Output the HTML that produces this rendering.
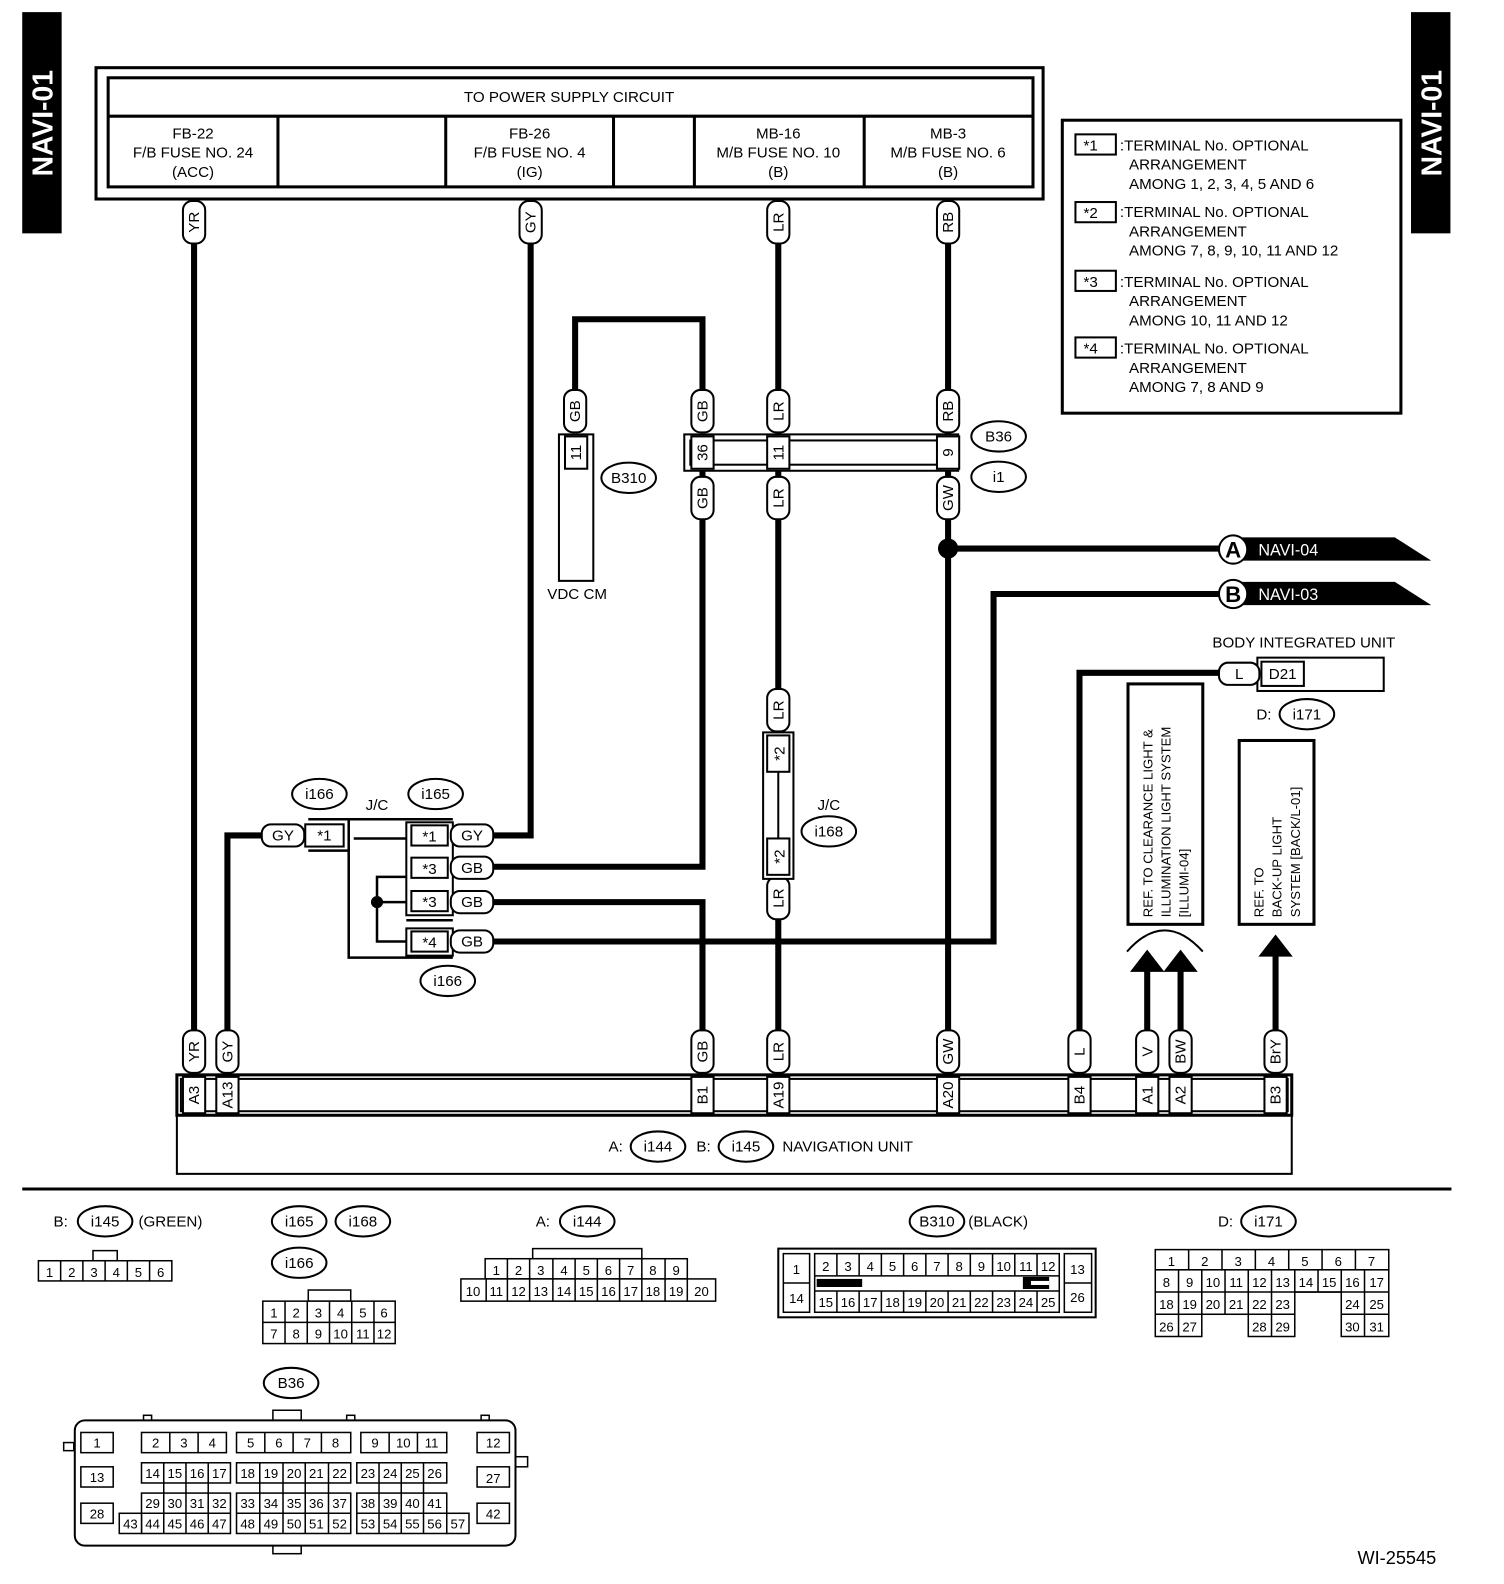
<!DOCTYPE html>
<html><head><meta charset="utf-8"><style>
html,body{margin:0;padding:0;background:#fff;overflow:hidden;width:1504px;height:1584px}
svg{display:block;position:absolute;left:0;top:0}
text{font-family:"Liberation Sans",Arial,sans-serif;fill:#000}
.t{font-size:15px}
.s{font-size:13px}
.w{fill:none;stroke:#000;stroke-width:6}
.b{fill:#fff;stroke:#000;stroke-width:2}
.b3{fill:#fff;stroke:#000;stroke-width:3}
.c{fill:#fff;stroke:#000;stroke-width:1.5}
</style></head><body>
<svg width="1504" height="1584" viewBox="0 0 1488 1568" preserveAspectRatio="none" xmlns="http://www.w3.org/2000/svg">
<rect x="22" y="12" width="39" height="219" fill="#000"/>
<text transform="translate(52,122) rotate(-90)" text-anchor="middle" style="font-size:28px;font-weight:bold;fill:#fff">NAVI-01</text>
<rect x="1396" y="12" width="39" height="219" fill="#000"/>
<text transform="translate(1426,122) rotate(-90)" text-anchor="middle" style="font-size:28px;font-weight:bold;fill:#fff">NAVI-01</text>

<rect x="95" y="67" width="937" height="130" class="b3"/>
<rect x="107" y="77" width="915" height="108" class="b3"/>
<line x1="107" y1="115" x2="1022" y2="115" stroke="#000" stroke-width="3"/>
<g stroke="#000" stroke-width="3"><line x1="275" y1="115" x2="275" y2="185"/><line x1="441" y1="115" x2="441" y2="185"/><line x1="607" y1="115" x2="607" y2="185"/><line x1="687" y1="115" x2="687" y2="185"/><line x1="855" y1="115" x2="855" y2="185"/></g>
<text x="563" y="101" text-anchor="middle" class="t">TO POWER SUPPLY CIRCUIT</text>
<g class="t" text-anchor="middle">
<text x="191" y="137">FB-22</text><text x="191" y="156">F/B FUSE NO. 24</text><text x="191" y="175">(ACC)</text>
<text x="524" y="137">FB-26</text><text x="524" y="156">F/B FUSE NO. 4</text><text x="524" y="175">(IG)</text>
<text x="770" y="137">MB-16</text><text x="770" y="156">M/B FUSE NO. 10</text><text x="770" y="175">(B)</text>
<text x="938" y="137">MB-3</text><text x="938" y="156">M/B FUSE NO. 6</text><text x="938" y="175">(B)</text>
</g>

<rect x="1051" y="119" width="335" height="290" class="b3"/>
<g class="t">
<rect x="1064" y="133" width="40" height="20" class="b"/><text x="1072" y="149">*1</text>
<text x="1108" y="149">:TERMINAL No. OPTIONAL</text><text x="1117" y="168">ARRANGEMENT</text><text x="1117" y="187">AMONG 1, 2, 3, 4, 5 AND 6</text>
<rect x="1064" y="200" width="40" height="20" class="b"/><text x="1072" y="216">*2</text>
<text x="1108" y="215">:TERMINAL No. OPTIONAL</text><text x="1117" y="234">ARRANGEMENT</text><text x="1117" y="253">AMONG 7, 8, 9, 10, 11 AND 12</text>
<rect x="1064" y="268" width="40" height="20" class="b"/><text x="1072" y="284">*3</text>
<text x="1108" y="284">:TERMINAL No. OPTIONAL</text><text x="1117" y="303">ARRANGEMENT</text><text x="1117" y="322">AMONG 10, 11 AND 12</text>
<rect x="1064" y="334" width="40" height="20" class="b"/><text x="1072" y="350">*4</text>
<text x="1108" y="350">:TERMINAL No. OPTIONAL</text><text x="1117" y="369">ARRANGEMENT</text><text x="1117" y="388">AMONG 7, 8 AND 9</text>
</g>

<g class="w">
<polyline points="192,197 192,1064"/>
<polyline points="525,197 525,827 488,827"/>
<polyline points="770,197 770,1064"/>
<polyline points="938,197 938,1064"/>
<polyline points="569,390 569,316 695,316 695,390"/>
<polyline points="695,466 695,858 488,858"/>
<polyline points="488,893 695,893 695,1064"/>
<polyline points="488,932 983,932 983,588 1210,588"/>
<polyline points="938,543 1210,543"/>
<polyline points="1068,1064 1068,666 1210,666"/>
<polyline points="225,1064 225,827 262,827"/>
<polyline points="1135,1064 1135,960"/>
<polyline points="1168,1064 1168,960"/>
<polyline points="1262,1064 1262,945"/>
</g>
<circle cx="938" cy="543" r="10" fill="#000"/>
<polygon points="1118,962 1135,940 1152,962" fill="#000"/>
<polygon points="1151,962 1168,940 1185,962" fill="#000"/>
<polygon points="1245,947 1262,925 1279,947" fill="#000"/>
<path d="M1115,942 Q1152,900 1190,942" fill="none" stroke="#000" stroke-width="2"/>

<g class="b">
<rect x="181" y="199" width="22" height="42" rx="9"/>
<rect x="514" y="199" width="22" height="42" rx="9"/>
<rect x="759" y="199" width="22" height="42" rx="9"/>
<rect x="927" y="199" width="22" height="42" rx="9"/>
<rect x="558" y="386" width="22" height="42" rx="9"/>
<rect x="684" y="386" width="22" height="42" rx="9"/>
<rect x="759" y="386" width="22" height="42" rx="9"/>
<rect x="927" y="386" width="22" height="42" rx="9"/>
<rect x="684" y="472" width="22" height="42" rx="9"/>
<rect x="759" y="472" width="22" height="42" rx="9"/>
<rect x="927" y="472" width="22" height="42" rx="9"/>
<rect x="759" y="682" width="22" height="42" rx="9"/>
<rect x="759" y="868" width="22" height="42" rx="9"/>
<rect x="181" y="1020" width="22" height="42" rx="9"/>
<rect x="214" y="1020" width="22" height="42" rx="9"/>
<rect x="684" y="1020" width="22" height="42" rx="9"/>
<rect x="759" y="1020" width="22" height="42" rx="9"/>
<rect x="927" y="1020" width="22" height="42" rx="9"/>
<rect x="1057" y="1020" width="22" height="42" rx="9"/>
<rect x="1124" y="1020" width="22" height="42" rx="9"/>
<rect x="1157" y="1020" width="22" height="42" rx="9"/>
<rect x="1251" y="1020" width="22" height="42" rx="9"/>
</g>
<g class="t" text-anchor="middle">
<text transform="translate(197,220) rotate(-90)">YR</text>
<text transform="translate(530,220) rotate(-90)">GY</text>
<text transform="translate(775,220) rotate(-90)">LR</text>
<text transform="translate(943,220) rotate(-90)">RB</text>
<text transform="translate(574,407) rotate(-90)">GB</text>
<text transform="translate(700,407) rotate(-90)">GB</text>
<text transform="translate(775,407) rotate(-90)">LR</text>
<text transform="translate(943,407) rotate(-90)">RB</text>
<text transform="translate(700,493) rotate(-90)">GB</text>
<text transform="translate(775,493) rotate(-90)">LR</text>
<text transform="translate(943,493) rotate(-90)">GW</text>
<text transform="translate(775,703) rotate(-90)">LR</text>
<text transform="translate(775,889) rotate(-90)">LR</text>
<text transform="translate(197,1041) rotate(-90)">YR</text>
<text transform="translate(230,1041) rotate(-90)">GY</text>
<text transform="translate(700,1041) rotate(-90)">GB</text>
<text transform="translate(775,1041) rotate(-90)">LR</text>
<text transform="translate(943,1041) rotate(-90)">GW</text>
<text transform="translate(1073,1041) rotate(-90)">L</text>
<text transform="translate(1140,1041) rotate(-90)">V</text>
<text transform="translate(1173,1041) rotate(-90)">BW</text>
<text transform="translate(1267,1041) rotate(-90)">BrY</text>
</g>

<rect x="677" y="430" width="271" height="36" class="b"/>
<rect x="683" y="436" width="259" height="24" class="b"/>
<rect x="684" y="432" width="22" height="32" class="b"/>
<rect x="759" y="432" width="22" height="32" class="b"/>
<rect x="927" y="432" width="22" height="32" class="b"/>
<g class="t" text-anchor="middle">
<text transform="translate(700,448) rotate(-90)">36</text>
<text transform="translate(775,448) rotate(-90)">11</text>
<text transform="translate(943,448) rotate(-90)">9</text>
</g>
<ellipse cx="988" cy="432" rx="27" ry="15" class="b"/><text x="988" y="437" text-anchor="middle" class="t">B36</text>
<ellipse cx="988" cy="472" rx="27" ry="15" class="b"/><text x="988" y="477" text-anchor="middle" class="t">i1</text>

<rect x="553" y="430" width="34" height="145" class="b"/>
<rect x="559" y="432" width="22" height="32" class="b"/>
<text transform="translate(575,448) rotate(-90)" text-anchor="middle" class="t">11</text>
<ellipse cx="622" cy="473" rx="27" ry="15" class="b"/><text x="622" y="478" text-anchor="middle" class="t">B310</text>
<text x="571" y="593" text-anchor="middle" class="t">VDC CM</text>

<polygon points="1228,532 1380,532 1416,555 1228,555" fill="#000"/>
<circle cx="1220" cy="544" r="14" class="b"/><text x="1220" y="552" text-anchor="middle" style="font-size:22px;font-weight:bold">A</text>
<text x="1245" y="550" style="font-size:16px;fill:#fff">NAVI-04</text>
<polygon points="1228,576 1380,576 1416,599 1228,599" fill="#000"/>
<circle cx="1220" cy="588" r="14" class="b"/><text x="1220" y="596" text-anchor="middle" style="font-size:22px;font-weight:bold">B</text>
<text x="1245" y="594" style="font-size:16px;fill:#fff">NAVI-03</text>

<text x="1290" y="641" text-anchor="middle" class="t">BODY INTEGRATED UNIT</text>
<rect x="1244" y="651" width="125" height="33" class="b"/>
<rect x="1248" y="655" width="42" height="24" class="b"/>
<text x="1269" y="672" text-anchor="middle" class="t">D21</text>
<rect x="1206" y="656" width="40" height="22" rx="9" class="b"/><text x="1226" y="672" text-anchor="middle" class="t">L</text>
<text x="1243" y="712" class="t">D:</text>
<ellipse cx="1293" cy="707" rx="27" ry="15" class="b"/><text x="1293" y="712" text-anchor="middle" class="t">i171</text>

<rect x="1116" y="677" width="74" height="238" class="b3"/>
<g class="s"><text transform="translate(1140,908) rotate(-90)">REF. TO CLEARANCE LIGHT &amp;</text>
<text transform="translate(1158,908) rotate(-90)">ILLUMINATION LIGHT SYSTEM</text>
<text transform="translate(1176,908) rotate(-90)">[ILLUMI-04]</text></g>
<rect x="1226" y="733" width="74" height="182" class="b3"/>
<g class="s"><text transform="translate(1250,908) rotate(-90)">REF. TO</text>
<text transform="translate(1268,908) rotate(-90)">BACK-UP LIGHT</text>
<text transform="translate(1286,908) rotate(-90)">SYSTEM [BACK/L-01]</text></g>

<rect x="755" y="725" width="30" height="145" class="b"/>
<rect x="759" y="728" width="22" height="36" class="b"/>
<rect x="759" y="830" width="22" height="36" class="b"/>
<g class="t" text-anchor="middle">
<text transform="translate(776,746) rotate(-90)">*2</text>
<text transform="translate(776,848) rotate(-90)">*2</text>
</g>
<line x1="770" y1="764" x2="770" y2="830" stroke="#000" stroke-width="2"/>
<text x="820" y="802" text-anchor="middle" class="t">J/C</text>
<ellipse cx="820" cy="823" rx="27" ry="15" class="b"/><text x="820" y="828" text-anchor="middle" class="t">i168</text>

<ellipse cx="316" cy="786" rx="27" ry="15" class="b"/><text x="316" y="791" text-anchor="middle" class="t">i166</text>
<ellipse cx="431" cy="786" rx="27" ry="15" class="b"/><text x="431" y="791" text-anchor="middle" class="t">i165</text>
<text x="373" y="802" text-anchor="middle" class="t">J/C</text>
<g fill="none" stroke="#000" stroke-width="2.5">
<line x1="305" y1="811" x2="448" y2="811"/>
<line x1="305" y1="842" x2="345" y2="842"/>
<polyline points="345,811 345,948 448,948"/>
<line x1="350" y1="830" x2="404" y2="830"/>
<polyline points="404,868 373,868 373,932 404,932"/>
<line x1="373" y1="893" x2="404" y2="893"/>
<line x1="402" y1="911" x2="448" y2="911"/>
</g>
<circle cx="373" cy="893" r="6" fill="#000"/>
<rect x="402" y="814" width="46" height="92" class="b"/>
<rect x="407" y="817" width="36" height="20" class="b"/><text x="425" y="833" text-anchor="middle" class="t">*1</text>
<rect x="407" y="849" width="36" height="20" class="b"/><text x="425" y="865" text-anchor="middle" class="t">*3</text>
<rect x="407" y="882" width="36" height="20" class="b"/><text x="425" y="898" text-anchor="middle" class="t">*3</text>
<rect x="402" y="919" width="46" height="27" class="b"/>
<rect x="407" y="922" width="36" height="20" class="b"/><text x="425" y="938" text-anchor="middle" class="t">*4</text>
<rect x="302" y="816" width="38" height="22" class="b"/><text x="321" y="832" text-anchor="middle" class="t">*1</text>
<g class="b">
<rect x="259" y="816" width="42" height="22" rx="9"/>
<rect x="446" y="816" width="42" height="22" rx="9"/>
<rect x="446" y="848" width="42" height="22" rx="9"/>
<rect x="446" y="882" width="42" height="22" rx="9"/>
<rect x="446" y="921" width="42" height="22" rx="9"/>
</g>
<g class="t" text-anchor="middle">
<text x="280" y="832">GY</text><text x="467" y="832">GY</text><text x="467" y="864">GB</text><text x="467" y="898">GB</text><text x="467" y="937">GB</text>
</g>
<ellipse cx="443" cy="971" rx="27" ry="15" class="b"/><text x="443" y="976" text-anchor="middle" class="t">i166</text>

<rect x="175" y="1064" width="1103" height="98" class="b"/>
<rect x="175" y="1064" width="1103" height="40" class="b3"/>
<rect x="179" y="1068" width="1095" height="32" class="b"/>
<g class="b">
<rect x="181" y="1066" width="22" height="36"/><rect x="214" y="1066" width="22" height="36"/>
<rect x="684" y="1066" width="22" height="36"/><rect x="759" y="1066" width="22" height="36"/>
<rect x="927" y="1066" width="22" height="36"/><rect x="1057" y="1066" width="22" height="36"/>
<rect x="1124" y="1066" width="22" height="36"/><rect x="1157" y="1066" width="22" height="36"/>
<rect x="1251" y="1066" width="22" height="36"/>
</g>
<g class="t" text-anchor="middle">
<text transform="translate(197,1084) rotate(-90)">A3</text>
<text transform="translate(230,1084) rotate(-90)">A13</text>
<text transform="translate(700,1084) rotate(-90)">B1</text>
<text transform="translate(775,1084) rotate(-90)">A19</text>
<text transform="translate(943,1084) rotate(-90)">A20</text>
<text transform="translate(1073,1084) rotate(-90)">B4</text>
<text transform="translate(1140,1084) rotate(-90)">A1</text>
<text transform="translate(1173,1084) rotate(-90)">A2</text>
<text transform="translate(1267,1084) rotate(-90)">B3</text>
</g>
<text x="602" y="1140" class="t">A:</text>
<ellipse cx="651" cy="1135" rx="27" ry="15" class="b"/><text x="651" y="1140" text-anchor="middle" class="t">i144</text>
<text x="689" y="1140" class="t">B:</text>
<ellipse cx="738" cy="1135" rx="27" ry="15" class="b"/><text x="738" y="1140" text-anchor="middle" class="t">i145</text>
<text x="774" y="1140" class="t">NAVIGATION UNIT</text>

<line x1="22" y1="1177" x2="1436" y2="1177" stroke="#000" stroke-width="3"/>

<text x="53" y="1214" class="t">B:</text>
<ellipse cx="104" cy="1209" rx="27" ry="15" class="b"/><text x="104" y="1214" text-anchor="middle" class="t">i145</text>
<text x="137" y="1214" class="t">(GREEN)</text>
<rect x="92" y="1238" width="24" height="10" class="c"/>
<g class="c"><rect x="38" y="1248" width="132" height="20"/></g>
<g fill="none" stroke="#000" stroke-width="1.5"><line x1="60" y1="1248" x2="60" y2="1268"/><line x1="82" y1="1248" x2="82" y2="1268"/><line x1="104" y1="1248" x2="104" y2="1268"/><line x1="126" y1="1248" x2="126" y2="1268"/><line x1="148" y1="1248" x2="148" y2="1268"/></g>
<g class="s" text-anchor="middle"><text x="49" y="1264">1</text><text x="71" y="1264">2</text><text x="93" y="1264">3</text><text x="115" y="1264">4</text><text x="137" y="1264">5</text><text x="159" y="1264">6</text></g>

<ellipse cx="296" cy="1209" rx="27" ry="15" class="b"/><text x="296" y="1214" text-anchor="middle" class="t">i165</text>
<ellipse cx="359" cy="1209" rx="27" ry="15" class="b"/><text x="359" y="1214" text-anchor="middle" class="t">i168</text>
<ellipse cx="296" cy="1250" rx="27" ry="15" class="b"/><text x="296" y="1255" text-anchor="middle" class="t">i166</text>
<rect x="305" y="1277" width="42" height="11" class="c"/>
<rect x="260" y="1288" width="131" height="42" class="c"/>
<g fill="none" stroke="#000" stroke-width="1.5"><line x1="260" y1="1309" x2="391" y2="1309"/><line x1="282" y1="1288" x2="282" y2="1330"/><line x1="304" y1="1288" x2="304" y2="1330"/><line x1="326" y1="1288" x2="326" y2="1330"/><line x1="348" y1="1288" x2="348" y2="1330"/><line x1="370" y1="1288" x2="370" y2="1330"/></g>
<g class="s" text-anchor="middle"><text x="271" y="1304">1</text><text x="293" y="1304">2</text><text x="315" y="1304">3</text><text x="337" y="1304">4</text><text x="359" y="1304">5</text><text x="380" y="1304">6</text>
<text x="271" y="1325">7</text><text x="293" y="1325">8</text><text x="315" y="1325">9</text><text x="337" y="1325">10</text><text x="359" y="1325">11</text><text x="380" y="1325">12</text></g>

<text x="530" y="1214" class="t">A:</text>
<ellipse cx="581" cy="1209" rx="27" ry="15" class="b"/><text x="581" y="1214" text-anchor="middle" class="t">i144</text>
<rect x="527" y="1236" width="108" height="10" class="c"/>
<rect x="480" y="1246" width="200" height="20" class="c"/>
<rect x="456" y="1266" width="252" height="22" class="c"/>
<g fill="none" stroke="#000" stroke-width="1.5">
<line x1="502" y1="1246" x2="502" y2="1266"/><line x1="524" y1="1246" x2="524" y2="1266"/><line x1="547" y1="1246" x2="547" y2="1266"/><line x1="569" y1="1246" x2="569" y2="1266"/><line x1="591" y1="1246" x2="591" y2="1266"/><line x1="613" y1="1246" x2="613" y2="1266"/><line x1="635" y1="1246" x2="635" y2="1266"/><line x1="658" y1="1246" x2="658" y2="1266"/>
<line x1="481" y1="1266" x2="481" y2="1288"/><line x1="502" y1="1266" x2="502" y2="1288"/><line x1="524" y1="1266" x2="524" y2="1288"/><line x1="547" y1="1266" x2="547" y2="1288"/><line x1="569" y1="1266" x2="569" y2="1288"/><line x1="591" y1="1266" x2="591" y2="1288"/><line x1="613" y1="1266" x2="613" y2="1288"/><line x1="635" y1="1266" x2="635" y2="1288"/><line x1="658" y1="1266" x2="658" y2="1288"/><line x1="680" y1="1266" x2="680" y2="1288"/></g>
<g class="s" text-anchor="middle"><text x="491" y="1262">1</text><text x="513" y="1262">2</text><text x="535" y="1262">3</text><text x="558" y="1262">4</text><text x="580" y="1262">5</text><text x="602" y="1262">6</text><text x="624" y="1262">7</text><text x="646" y="1262">8</text><text x="669" y="1262">9</text>
<text x="468" y="1283">10</text><text x="491" y="1283">11</text><text x="513" y="1283">12</text><text x="535" y="1283">13</text><text x="558" y="1283">14</text><text x="580" y="1283">15</text><text x="602" y="1283">16</text><text x="624" y="1283">17</text><text x="646" y="1283">18</text><text x="669" y="1283">19</text><text x="694" y="1283">20</text></g>

<ellipse cx="927" cy="1209" rx="27" ry="15" class="b"/><text x="927" y="1214" text-anchor="middle" class="t">B310</text>
<text x="958" y="1214" class="t">(BLACK)</text>
<rect x="770" y="1236" width="314" height="68" class="b"/>
<rect x="775" y="1241" width="26" height="58" class="c"/><line x1="775" y1="1270" x2="801" y2="1270" stroke="#000" stroke-width="1.5"/>
<rect x="1053" y="1241" width="27" height="58" class="c"/><line x1="1053" y1="1270" x2="1080" y2="1270" stroke="#000" stroke-width="1.5"/>
<rect x="806" y="1241" width="242" height="58" class="c"/>
<rect x="808" y="1266" width="45" height="8" fill="#000"/>
<rect x="1012" y="1264" width="26" height="12" fill="#000"/><rect x="1020" y="1268" width="18" height="4" fill="#fff"/>
<g fill="none" stroke="#000" stroke-width="1.5"><line x1="806" y1="1263" x2="1048" y2="1263"/><line x1="806" y1="1278" x2="1048" y2="1278"/>
<line x1="828" y1="1241" x2="828" y2="1263"/><line x1="850" y1="1241" x2="850" y2="1263"/><line x1="872" y1="1241" x2="872" y2="1263"/><line x1="894" y1="1241" x2="894" y2="1263"/><line x1="916" y1="1241" x2="916" y2="1263"/><line x1="938" y1="1241" x2="938" y2="1263"/><line x1="960" y1="1241" x2="960" y2="1263"/><line x1="982" y1="1241" x2="982" y2="1263"/><line x1="1004" y1="1241" x2="1004" y2="1263"/><line x1="1026" y1="1241" x2="1026" y2="1263"/>
<line x1="828" y1="1278" x2="828" y2="1299"/><line x1="850" y1="1278" x2="850" y2="1299"/><line x1="872" y1="1278" x2="872" y2="1299"/><line x1="894" y1="1278" x2="894" y2="1299"/><line x1="916" y1="1278" x2="916" y2="1299"/><line x1="938" y1="1278" x2="938" y2="1299"/><line x1="960" y1="1278" x2="960" y2="1299"/><line x1="982" y1="1278" x2="982" y2="1299"/><line x1="1004" y1="1278" x2="1004" y2="1299"/><line x1="1026" y1="1278" x2="1026" y2="1299"/></g>
<g class="s" text-anchor="middle"><text x="788" y="1261">1</text><text x="788" y="1290">14</text><text x="1066" y="1261">13</text><text x="1066" y="1289">26</text>
<text x="817" y="1258">2</text><text x="839" y="1258">3</text><text x="861" y="1258">4</text><text x="883" y="1258">5</text><text x="905" y="1258">6</text><text x="927" y="1258">7</text><text x="949" y="1258">8</text><text x="971" y="1258">9</text><text x="993" y="1258">10</text><text x="1015" y="1258">11</text><text x="1037" y="1258">12</text>
<text x="817" y="1294">15</text><text x="839" y="1294">16</text><text x="861" y="1294">17</text><text x="883" y="1294">18</text><text x="905" y="1294">19</text><text x="927" y="1294">20</text><text x="949" y="1294">21</text><text x="971" y="1294">22</text><text x="993" y="1294">23</text><text x="1015" y="1294">24</text><text x="1037" y="1294">25</text></g>

<text x="1205" y="1214" class="t">D:</text>
<ellipse cx="1255" cy="1209" rx="27" ry="15" class="b"/><text x="1255" y="1214" text-anchor="middle" class="t">i171</text>
<g class="c">
<rect x="1143" y="1237" width="231" height="20"/>
<rect x="1143" y="1257" width="46" height="66"/><rect x="1189" y="1257" width="46" height="44"/><rect x="1235" y="1257" width="46" height="66"/><rect x="1281" y="1257" width="46" height="22"/><rect x="1327" y="1257" width="47" height="66"/>
</g>
<g fill="none" stroke="#000" stroke-width="1.5">
<line x1="1176" y1="1237" x2="1176" y2="1257"/><line x1="1209" y1="1237" x2="1209" y2="1257"/><line x1="1242" y1="1237" x2="1242" y2="1257"/><line x1="1275" y1="1237" x2="1275" y2="1257"/><line x1="1308" y1="1237" x2="1308" y2="1257"/><line x1="1341" y1="1237" x2="1341" y2="1257"/>
<line x1="1143" y1="1279" x2="1374" y2="1279"/><line x1="1143" y1="1301" x2="1281" y2="1301"/><line x1="1327" y1="1301" x2="1374" y2="1301"/>
<line x1="1166" y1="1257" x2="1166" y2="1323"/><line x1="1212" y1="1257" x2="1212" y2="1301"/><line x1="1258" y1="1257" x2="1258" y2="1323"/><line x1="1304" y1="1257" x2="1304" y2="1279"/><line x1="1350" y1="1257" x2="1350" y2="1323"/></g>
<g class="s" text-anchor="middle"><text x="1159" y="1253">1</text><text x="1192" y="1253">2</text><text x="1225" y="1253">3</text><text x="1258" y="1253">4</text><text x="1291" y="1253">5</text><text x="1324" y="1253">6</text><text x="1357" y="1253">7</text>
<text x="1154" y="1274">8</text><text x="1177" y="1274">9</text><text x="1200" y="1274">10</text><text x="1223" y="1274">11</text><text x="1246" y="1274">12</text><text x="1269" y="1274">13</text><text x="1292" y="1274">14</text><text x="1315" y="1274">15</text><text x="1338" y="1274">16</text><text x="1362" y="1274">17</text>
<text x="1154" y="1296">18</text><text x="1177" y="1296">19</text><text x="1200" y="1296">20</text><text x="1223" y="1296">21</text><text x="1246" y="1296">22</text><text x="1269" y="1296">23</text><text x="1338" y="1296">24</text><text x="1362" y="1296">25</text>
<text x="1154" y="1318">26</text><text x="1177" y="1318">27</text><text x="1246" y="1318">28</text><text x="1269" y="1318">29</text><text x="1338" y="1318">30</text><text x="1362" y="1318">31</text></g>

<ellipse cx="288" cy="1369" rx="27" ry="15" class="b"/><text x="288" y="1374" text-anchor="middle" class="t">B36</text>
<rect x="270" y="1396" width="28" height="10" class="c"/>
<rect x="142" y="1401" width="8" height="6" class="c"/><rect x="343" y="1401" width="8" height="6" class="c"/><rect x="476" y="1401" width="8" height="6" class="c"/>
<rect x="63" y="1428" width="10" height="8" class="c"/><rect x="510" y="1442" width="12" height="10" class="c"/>
<rect x="270" y="1530" width="28" height="8" class="c"/>
<rect x="74" y="1406" width="436" height="124" rx="10" class="b"/>
<g class="c">
<rect x="80" y="1418" width="32" height="20"/><rect x="80" y="1452" width="32" height="20"/><rect x="80" y="1488" width="32" height="20"/>
<rect x="472" y="1418" width="32" height="20"/><rect x="472" y="1452" width="32" height="20"/><rect x="472" y="1488" width="32" height="20"/>
<rect x="140" y="1418" width="84" height="20"/><rect x="234" y="1418" width="113" height="20"/><rect x="357" y="1418" width="85" height="20"/>
<rect x="140" y="1448" width="88" height="20"/><rect x="234" y="1448" width="113" height="20"/><rect x="353" y="1448" width="89" height="20"/>
<rect x="140" y="1478" width="88" height="40"/><rect x="234" y="1478" width="113" height="40"/><rect x="353" y="1478" width="89" height="40"/>
<rect x="118" y="1498" width="22" height="20"/><rect x="442" y="1498" width="22" height="20"/>
</g>
<g fill="none" stroke="#000" stroke-width="1.5">
<line x1="168" y1="1418" x2="168" y2="1438"/><line x1="196" y1="1418" x2="196" y2="1438"/>
<line x1="262" y1="1418" x2="262" y2="1438"/><line x1="290" y1="1418" x2="290" y2="1438"/><line x1="318" y1="1418" x2="318" y2="1438"/>
<line x1="385" y1="1418" x2="385" y2="1438"/><line x1="413" y1="1418" x2="413" y2="1438"/>
<line x1="162" y1="1448" x2="162" y2="1518"/><line x1="184" y1="1448" x2="184" y2="1518"/><line x1="206" y1="1448" x2="206" y2="1518"/>
<line x1="257" y1="1448" x2="257" y2="1518"/><line x1="280" y1="1448" x2="280" y2="1518"/><line x1="302" y1="1448" x2="302" y2="1518"/><line x1="325" y1="1448" x2="325" y2="1518"/>
<line x1="375" y1="1448" x2="375" y2="1518"/><line x1="397" y1="1448" x2="397" y2="1518"/><line x1="419" y1="1448" x2="419" y2="1518"/>
<line x1="140" y1="1498" x2="228" y2="1498"/><line x1="234" y1="1498" x2="347" y2="1498"/><line x1="353" y1="1498" x2="442" y2="1498"/>
</g>
<g class="s" text-anchor="middle">
<text x="96" y="1433">1</text><text x="96" y="1467">13</text><text x="96" y="1503">28</text><text x="488" y="1433">12</text><text x="488" y="1468">27</text><text x="488" y="1503">42</text>
<text x="154" y="1433">2</text><text x="182" y="1433">3</text><text x="210" y="1433">4</text>
<text x="248" y="1433">5</text><text x="276" y="1433">6</text><text x="304" y="1433">7</text><text x="332" y="1433">8</text>
<text x="371" y="1433">9</text><text x="399" y="1433">10</text><text x="427" y="1433">11</text>
<text x="151" y="1463">14</text><text x="173" y="1463">15</text><text x="195" y="1463">16</text><text x="217" y="1463">17</text>
<text x="245" y="1463">18</text><text x="268" y="1463">19</text><text x="291" y="1463">20</text><text x="313" y="1463">21</text><text x="336" y="1463">22</text>
<text x="364" y="1463">23</text><text x="386" y="1463">24</text><text x="408" y="1463">25</text><text x="430" y="1463">26</text>
<text x="151" y="1493">29</text><text x="173" y="1493">30</text><text x="195" y="1493">31</text><text x="217" y="1493">32</text>
<text x="245" y="1493">33</text><text x="268" y="1493">34</text><text x="291" y="1493">35</text><text x="313" y="1493">36</text><text x="336" y="1493">37</text>
<text x="364" y="1493">38</text><text x="386" y="1493">39</text><text x="408" y="1493">40</text><text x="430" y="1493">41</text>
<text x="129" y="1513">43</text><text x="151" y="1513">44</text><text x="173" y="1513">45</text><text x="195" y="1513">46</text><text x="217" y="1513">47</text>
<text x="245" y="1513">48</text><text x="268" y="1513">49</text><text x="291" y="1513">50</text><text x="313" y="1513">51</text><text x="336" y="1513">52</text>
<text x="364" y="1513">53</text><text x="386" y="1513">54</text><text x="408" y="1513">55</text><text x="430" y="1513">56</text><text x="453" y="1513">57</text>
</g>

<text x="1382" y="1548" text-anchor="middle" style="font-size:18px">WI-25545</text>
</svg>
</body></html>
